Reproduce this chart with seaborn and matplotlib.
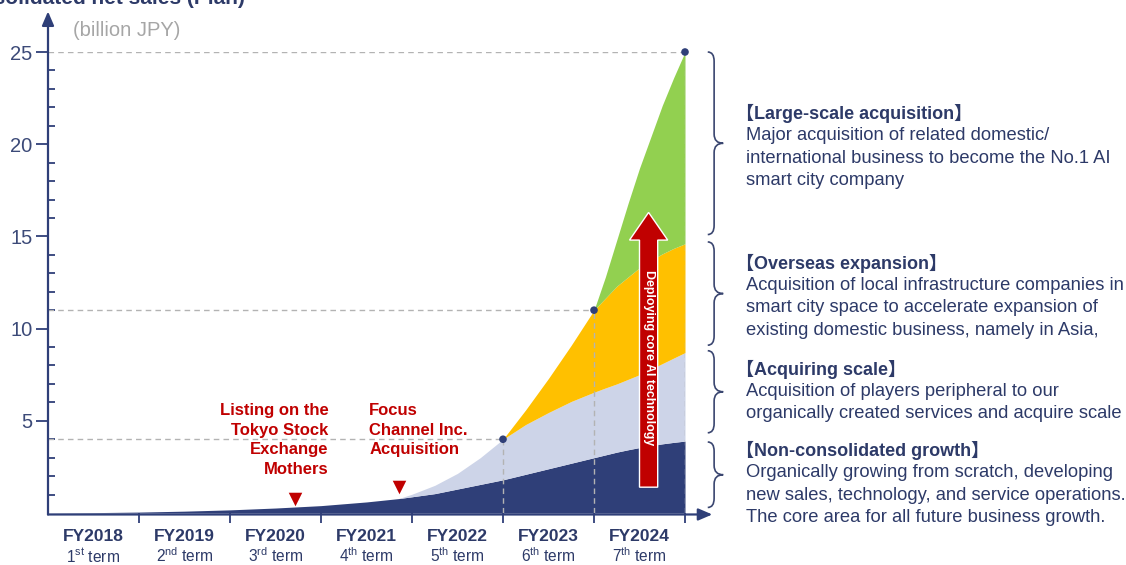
import numpy as np
import pandas as pd
import matplotlib
matplotlib.use('Agg')
import matplotlib.pyplot as plt
import seaborn as sns
from matplotlib.path import Path
from matplotlib.patches import PathPatch, FancyArrow

# time axis: 0 = start of FY2018, 7 = end of FY2024
xs = [0, 0.5, 1, 1.5, 2, 2.5, 3, 3.5, 3.85, 4, 4.25, 4.5, 4.75, 5,
      5.25, 5.5, 5.75, 6, 6.125, 6.25, 6.375, 6.5, 6.625, 6.75, 6.875, 7]
# cumulative top of each layer (billion JPY)
organic = [0, 0.02, 0.05, 0.1, 0.17, 0.27, 0.4, 0.6, 0.78, 0.88, 1.05, 1.3, 1.55, 1.8,
           2.1, 2.4, 2.7, 3.0, 3.15, 3.3, 3.43, 3.55, 3.65, 3.75, 3.83, 3.9]
scale = [np.nan] * 8 + [0.78, 1.02, 1.5, 2.15, 3.0, 4.0, 4.8, 5.45, 6.05, 6.55,
                        6.78, 7.0, 7.25, 7.5, 7.8, 8.1, 8.4, 8.7]
overseas = [np.nan] * 13 + [4.0, 5.6, 7.3, 9.1, 11.0, 11.65, 12.3, 12.8, 13.3,
                            13.7, 14.05, 14.35, 14.6]
large = [np.nan] * 17 + [11.0, 12.8, 14.8, 16.8, 18.7, 20.4, 22.1, 23.6, 25.0]

milestone_x = [5, 6, 7]
milestone_y = [4, 11, 25]

years = ['FY2018', 'FY2019', 'FY2020', 'FY2021', 'FY2022', 'FY2023', 'FY2024']
terms = ['1st', '2nd', '3rd', '4th', '5th', '6th', '7th']

events = ['Listing on the\nTokyo Stock\nExchange\nMothers', 'Focus\nChannel Inc.\nAcquisition']
event_x = [2.71, 3.86]
event_y = [0.75, 1.4]

headers = ['【Large-scale acquisition】', '【Overseas expansion】',
           '【Acquiring scale】', '【Non-consolidated growth】']
bodies = [['Major acquisition of related domestic/',
           'international business to become the No.1 AI',
           'smart city company'],
          ['Acquisition of local infrastructure companies in',
           'smart city space to accelerate expansion of',
           'existing domestic business, namely in Asia,'],
          ['Acquisition of players peripheral to our',
           'organically created services and acquire scale'],
          ['Organically growing from scratch, developing',
           'new sales, technology, and service operations.',
           'The core area for all future business growth.']]
header_y = [113, 263, 369, 450]
brace_ranges = [(25.0, 15.1), (14.7, 9.1), (8.8, 4.35), (3.85, 0.3)]

NAVY = '#2F3F78'
LAV = '#CDD4E8'
YEL = '#FFC000'
GRN = '#92D050'
RED = '#C00000'
TXT = '#2D3A68'
GREY = '#B3B3B3'

sns.set_theme(style='white')
plt.rcParams['font.family'] = ['Liberation Sans', 'Noto Sans CJK JP']
plt.rcParams['mathtext.fontset'] = 'custom'
plt.rcParams['mathtext.rm'] = 'Liberation Sans'

df = pd.DataFrame({'x': xs, 'organic': organic, 'scale': scale,
                   'overseas': overseas, 'large': large})
df['scale'] = df['scale'].fillna(df['organic'])
df['overseas'] = df['overseas'].fillna(df['scale'])
df['large'] = df['large'].fillna(df['overseas'])

W, H = 1126, 565
fig = plt.figure(figsize=(W / 100, H / 100), dpi=100)
ax = fig.add_axes([48 / W, (H - 513) / H, (685 - 48) / W, (513 - 52) / H])
ax.set_xlim(0, 7)
ax.set_ylim(0, 25)

ax.fill_between(df['x'], 0, df['organic'], color=NAVY, lw=0, zorder=2)
ax.fill_between(df['x'], df['organic'], df['scale'], color=LAV, lw=0, zorder=2)
ax.fill_between(df['x'], df['scale'], df['overseas'], color=YEL, lw=0, zorder=2)
ax.fill_between(df['x'], df['overseas'], df['large'], color=GRN, lw=0, zorder=2)

# guide lines to milestones
for mx, my in zip(milestone_x, milestone_y):
    ax.plot([0, mx], [my, my], ls=(0, (4, 3)), color=GREY, lw=1, zorder=3)
    ax.plot([mx, mx], [0, my], ls=(0, (4, 3)), color=GREY, lw=1, zorder=3)
sns.scatterplot(x=milestone_x, y=milestone_y, ax=ax, color=NAVY, s=30,
                edgecolor='none', zorder=5, clip_on=False)

# axes with arrows
for s in ax.spines.values():
    s.set_visible(False)
ax.annotate('', xy=(7.3, -0.08), xytext=(0, -0.08), annotation_clip=False,
            arrowprops=dict(arrowstyle='-|>,head_length=0.7,head_width=0.3',
                            color=NAVY, lw=1.6, shrinkA=0, shrinkB=0))
ax.annotate('', xy=(0, 27.2), xytext=(0, -0.08), annotation_clip=False,
            arrowprops=dict(arrowstyle='-|>,head_length=0.7,head_width=0.3',
                            color=NAVY, lw=1.6, shrinkA=0, shrinkB=0))

ax.set_yticks([5, 10, 15, 20, 25])
ax.set_yticks(range(1, 25), minor=True)
ax.set_xticks(range(1, 8))
ax.set_xticklabels([])
ax.tick_params(axis='y', which='major', direction='out', length=9, width=1.3,
               color=NAVY, labelcolor='#3C4A78', labelsize=14.5, pad=2, left=True)
ax.tick_params(axis='y', which='minor', direction='in', length=5, width=1.3,
               color=NAVY, left=True)
ax.tick_params(axis='x', which='major', direction='out', length=7, width=1.3,
               color=NAVY, bottom=True)
ax.grid(False)

for i, (yr, tm) in enumerate(zip(years, terms)):
    ax.text(i + 0.5, -1.3, yr, ha='center', va='center', fontsize=12.5,
            fontweight='bold', color=TXT, clip_on=False)
    ax.text(i + 0.5, -2.32, tm[0] + r'$^{\mathrm{' + tm[1:] + '}}$ term', ha='center',
            va='center', fontsize=11.2, color=TXT, clip_on=False)

ax.text(0.27, 26.15, '(billion JPY)', ha='left', va='center', fontsize=14.5,
        color='#A6A6A6', clip_on=False)

# events
ax.scatter(event_x, event_y, marker='v', s=95, color=RED, zorder=6, linewidths=0)
ax.text(3.08, 5.95, events[0], ha='right', va='top', fontsize=12, fontweight='bold',
        color=RED, linespacing=1.37, zorder=6)
ax.text(3.53, 5.95, events[1], ha='left', va='top', fontsize=12, fontweight='bold',
        color=RED, linespacing=1.37, zorder=6)

# red arrow
ax.add_patch(FancyArrow(6.6, 1.4, 0, 16.3 - 1.4, width=0.2, head_width=0.42,
                        head_length=1.5, length_includes_head=True, fc=RED,
                        ec='white', lw=1, zorder=7))
ax.text(6.6, 8.45, 'Deploying core AI technology', rotation=-90, ha='center',
        va='center', color='white', fontsize=8.9, fontweight='bold', zorder=8)

# braces
def brace(y0, y1):
    x0, x1, x2 = 7.25, 7.32, 7.42
    r = 0.5
    ym = (y0 + y1) / 2
    verts = [(x0, y0), (x1, y0), (x1, y0 - r), (x1, ym + r), (x1, ym), (x2, ym),
             (x1, ym), (x1, ym - r), (x1, y1 + r), (x1, y1), (x0, y1)]
    codes = [Path.MOVETO, Path.CURVE3, Path.CURVE3, Path.LINETO, Path.CURVE3, Path.CURVE3,
             Path.CURVE3, Path.CURVE3, Path.LINETO, Path.CURVE3, Path.CURVE3]
    ax.add_patch(PathPatch(Path(verts, codes), fc='none', ec='#3A4670', lw=1.2,
                           clip_on=False))

for y0, y1 in brace_ranges:
    brace(y0, y1)

# right-hand descriptions
for hy, hd, lines in zip(header_y, headers, bodies):
    fig.text(736 / W, 1 - hy / H, hd, ha='left', va='center', fontsize=13,
             fontweight='bold', color=TXT)
    for k, line in enumerate(lines):
        fig.text(746 / W, 1 - (hy + 22.5 * (k + 1)) / H, line, ha='left', va='center',
                 fontsize=13.2, color=TXT)

# title cut off at the top of the slide
fig.text(245 / W, 1 - 4 / H, 'Consolidated net sales (Plan)', ha='right', va='baseline',
         fontsize=15, fontweight='bold', color=TXT)

fig.savefig('out.png', dpi=100)
